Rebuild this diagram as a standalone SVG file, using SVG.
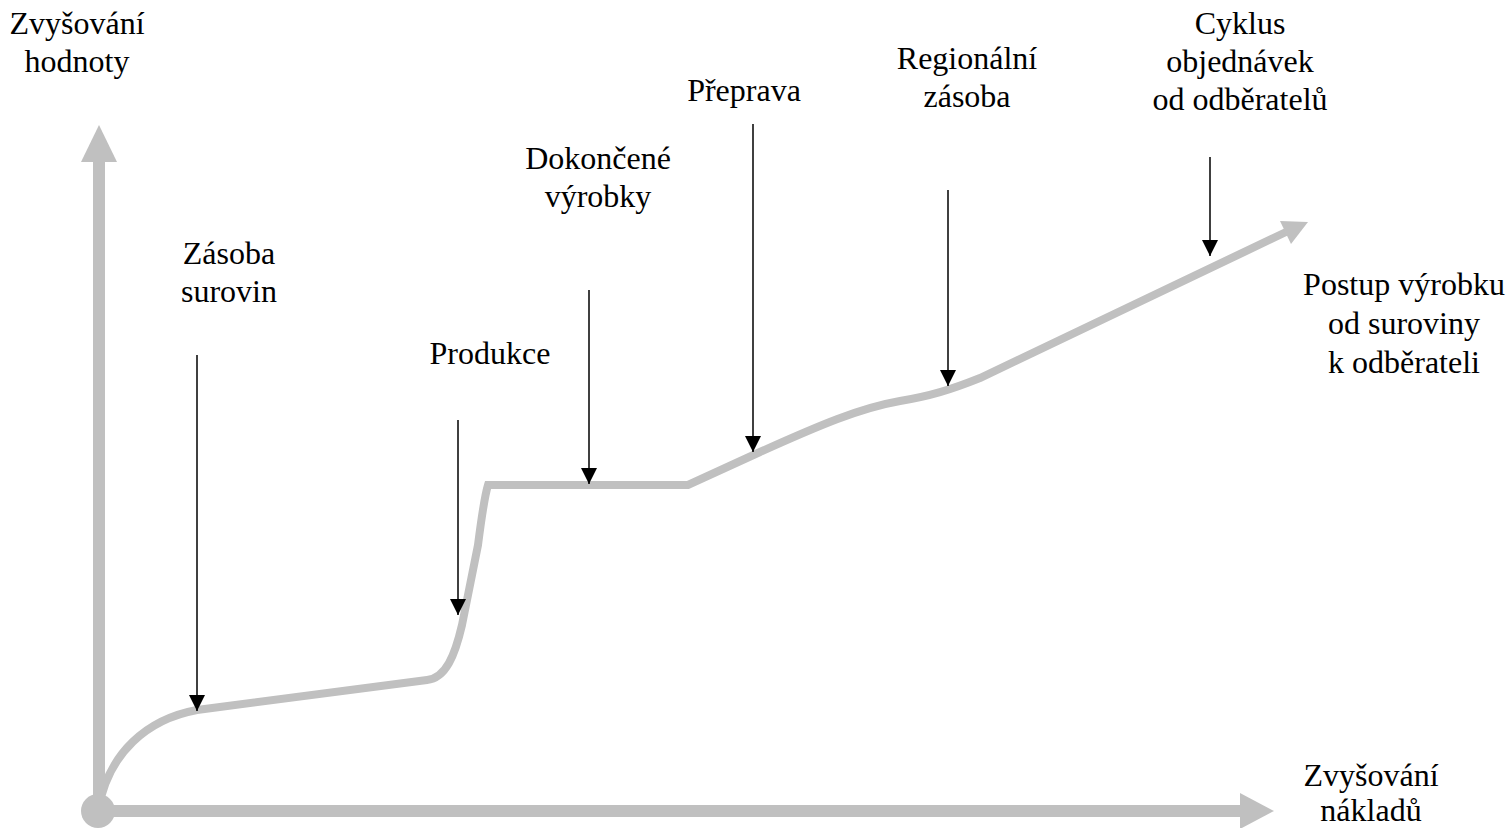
<svg xmlns="http://www.w3.org/2000/svg" width="1510" height="828" viewBox="0 0 1510 828">
  <defs>
    <marker id="tip" viewBox="0 0 16 16" refX="16" refY="8" markerWidth="16" markerHeight="16" markerUnits="userSpaceOnUse" orient="auto">
      <path d="M0,0 L16,8 L0,16 Z" fill="#000"/>
    </marker>
    <style>
      .axis { stroke: #c0c0c0; stroke-width: 12; fill: none; }
      .head { fill: #c0c0c0; }
      .curve { stroke: #c0c0c0; stroke-width: 8; fill: none; stroke-linejoin: miter; }
      .ptr { stroke: #000; stroke-width: 1.5; fill: none; marker-end: url(#tip); }
      text { font-family: "Liberation Serif", "Times New Roman", serif; font-size: 32px; fill: #000; text-anchor: middle; }
    </style>
  </defs>
  <rect width="1510" height="828" fill="#fff"/>

  <!-- axes -->
  <g id="axes">
    <line class="axis" x1="99" y1="811" x2="99" y2="160"/>
    <polygon class="head" points="99,125 81,162 117,162"/>
    <line class="axis" x1="99" y1="811" x2="1242" y2="811"/>
    <polygon class="head" points="1274,811 1240,793 1240,829"/>
    <circle cx="98" cy="811" r="17" fill="#c0c0c0"/>
  </g>

  <!-- value curve from raw material to customer -->
  <g id="curve">
    <path class="curve" d="M98,811 C108,752 148,719 197,710 L427,680 C446,678 455,655 462,625 L478,545 Q484,498 488,485 L688,485 L760,452 C820,425 860,408 900,401 C930,396 950,390 980,378 L1286,232"/>
    <polygon class="head" points="1308,222 1280,221 1291,244"/>
  </g>

  <!-- stage pointers -->
  <g id="connectors">
    <line class="ptr" x1="197" y1="355" x2="197" y2="711"/>
    <line class="ptr" x1="458" y1="420" x2="458" y2="615"/>
    <line class="ptr" x1="589" y1="290" x2="589" y2="484"/>
    <line class="ptr" x1="753" y1="124" x2="753" y2="452"/>
    <line class="ptr" x1="948" y1="190" x2="948" y2="386"/>
    <line class="ptr" x1="1210" y1="157" x2="1210" y2="256"/>
  </g>

  <g id="label-value-axis">
    <text x="77" y="34">Zvyšování</text>
    <text x="77" y="72">hodnoty</text>
  </g>
  <g id="label-raw-stock">
    <text x="229" y="264">Zásoba</text>
    <text x="229" y="302">surovin</text>
  </g>
  <g id="label-production">
    <text x="490" y="364">Produkce</text>
  </g>
  <g id="label-finished">
    <text x="598" y="169">Dokončené</text>
    <text x="598" y="207">výrobky</text>
  </g>
  <g id="label-transport">
    <text x="744" y="101">Přeprava</text>
  </g>
  <g id="label-regional">
    <text x="967" y="69">Regionální</text>
    <text x="967" y="107">zásoba</text>
  </g>
  <g id="label-orders">
    <text x="1240" y="34">Cyklus</text>
    <text x="1240" y="72">objednávek</text>
    <text x="1240" y="110">od odběratelů</text>
  </g>
  <g id="label-progress">
    <text x="1404" y="295">Postup výrobku</text>
    <text x="1404" y="334">od suroviny</text>
    <text x="1404" y="373">k odběrateli</text>
  </g>
  <g id="label-cost-axis">
    <text x="1371" y="786">Zvyšování</text>
    <text x="1371" y="821">nákladů</text>
  </g>
</svg>
